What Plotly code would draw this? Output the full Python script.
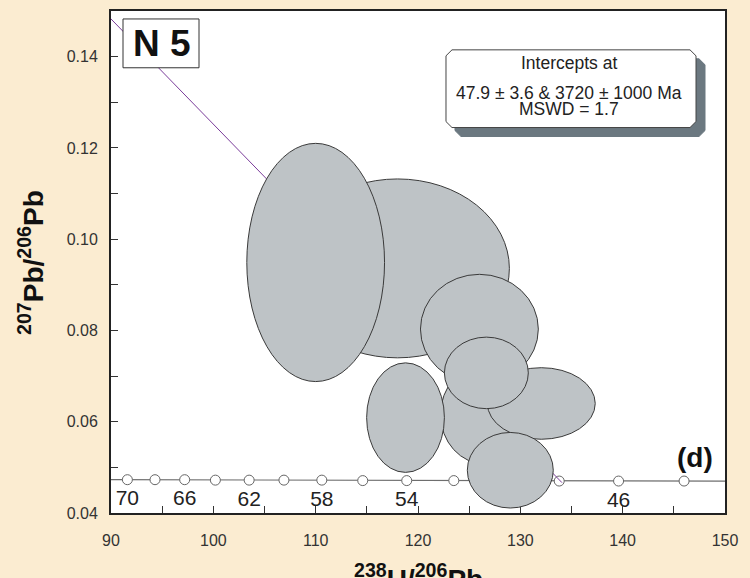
import plotly.graph_objects as go

# --- Concordia (Tera-Wasserburg) age markers, Ma ---
conc_age = [70, 68, 66, 64, 62, 60, 58, 56, 54, 52, 50, 48, 46, 44]
conc_x = [91.6, 94.3, 97.2, 100.2, 103.5, 106.9, 110.6, 114.6, 118.9, 123.5, 128.4, 133.8, 139.6, 146.0]
conc_y = [0.0473, 0.0473, 0.0473, 0.0472, 0.0472, 0.0472, 0.0472, 0.0471, 0.0471, 0.0471, 0.0471, 0.0470, 0.0470, 0.0470]
conc_line_x = [90, 150]
conc_line_y = [0.0473, 0.0470]
label_ages = [70, 66, 62, 58, 54, 50, 46]

# --- Discordia through the lower (47.9 Ma) and upper (3720 Ma) intercepts ---
disc_x = [134.07, 1.281]
disc_y = [0.04665, 0.3528]

# --- Error ellipses: centre and half-axes (238U/206Pb, 207Pb/206Pb) ---
ell_x = [118.0, 110.0, 126.6, 132.05, 126.0, 126.68, 118.78, 129.02]
ell_dx = [10.93, 6.73, 4.4, 5.27, 5.76, 4.10, 3.8, 4.2]
ell_y = [0.0936, 0.0949, 0.0616, 0.0640, 0.0803, 0.0707, 0.0609, 0.04937]
ell_dy = [0.0196, 0.0261, 0.0109, 0.00784, 0.0120, 0.00784, 0.0120, 0.00828]

x_ticks = [90, 100, 110, 120, 130, 140, 150]
y_ticks = [0.04, 0.06, 0.08, 0.10, 0.12, 0.14]

sample = "N 5"
panel = "(d)"
result_lines = ["Intercepts at", "47.9 ± 3.6 & 3720 ± 1000 Ma", "MSWD = 1.7"]

FONT = "Arial, Liberation Sans, sans-serif"
W, H = 750, 578
L, R, T, B = 111, 725, 9, 513


def fx(px):
    return (px - L) / (R - L)


def fy(py):
    return (B - py) / (B - T)


fig = go.Figure()

# concordia curve and age markers
fig.add_trace(go.Scatter(x=conc_line_x, y=conc_line_y, mode="lines",
                         line=dict(color="#6e6e6e", width=1.2), hoverinfo="skip"))
fig.add_trace(go.Scatter(x=conc_x, y=conc_y, mode="markers",
                         marker=dict(symbol="circle", size=10, color="white",
                                     line=dict(color="#666", width=1)),
                         hoverinfo="skip"))
lab_x = [conc_x[conc_age.index(a)] for a in label_ages]
lab_y = [conc_y[conc_age.index(a)] for a in label_ages]
fig.add_trace(go.Scatter(x=lab_x, y=lab_y, mode="markers+text",
                         marker=dict(size=14, opacity=0),
                         text=[str(a) for a in label_ages],
                         textposition="bottom center",
                         textfont=dict(family=FONT, size=21, color="#222"),
                         hoverinfo="skip"))

# discordia
fig.add_trace(go.Scatter(x=disc_x, y=disc_y, mode="lines",
                         line=dict(color="#7a3c9a", width=1), hoverinfo="skip"))

shapes = []
for cx, dx, cy, dy in zip(ell_x, ell_dx, ell_y, ell_dy):
    shapes.append(dict(type="circle", xref="x", yref="y",
                       x0=cx - dx, x1=cx + dx, y0=cy - dy, y1=cy + dy,
                       fillcolor="#bec3c6", line=dict(color="#3a3a3a", width=1),
                       layer="above"))

# sample box
shapes.append(dict(type="rect", xref="paper", yref="paper",
                   x0=fx(123), x1=fx(199), y0=fy(66), y1=fy(17),
                   fillcolor="white", line=dict(color="#333", width=1), layer="above"))


def chamfer_path(x0, y0, x1, y1, c):
    pts = [(x0 + c, y0), (x1 - c, y0), (x1, y0 + c), (x1, y1 - c),
           (x1 - c, y1), (x0 + c, y1), (x0, y1 - c), (x0, y0 + c)]
    return "M " + " L ".join(f"{fx(px):.5f},{fy(py):.5f}" for px, py in pts) + " Z"


# results box with drop shadow
shapes.append(dict(type="path", xref="paper", yref="paper",
                   path=chamfer_path(455, 57, 705, 135, 6),
                   fillcolor="#6b7880", line=dict(color="#6b7880", width=1), layer="above"))
shapes.append(dict(type="path", xref="paper", yref="paper",
                   path=chamfer_path(446, 48, 696, 126, 6),
                   fillcolor="white", line=dict(color="#444", width=1), layer="above"))

annotations = [
    dict(text=f"<b>{sample}</b>", x=fx(162), y=fy(42), xref="paper", yref="paper",
         showarrow=False, font=dict(family=FONT, size=37, color="#111"),
         xanchor="center", yanchor="middle"),
    dict(text=f"<b>{panel}</b>", x=fx(695), y=fy(457), xref="paper", yref="paper",
         showarrow=False, font=dict(family=FONT, size=28, color="#111"),
         xanchor="center", yanchor="middle"),
    dict(text="<b><sup>207</sup>Pb/<sup>206</sup>Pb</b>", x=fx(31), y=fy(262),
         xref="paper", yref="paper", showarrow=False, textangle=-90,
         font=dict(family=FONT, size=28, color="#111"),
         xanchor="center", yanchor="middle"),
    dict(text="<b><sup>238</sup>U/<sup>206</sup>Pb</b>", x=fx(418), y=fy(557),
         xref="paper", yref="paper", showarrow=False,
         font=dict(family=FONT, size=28, color="#111"),
         xanchor="center", yanchor="top"),
]
for txt, py in zip(result_lines, [61, 91, 107]):
    annotations.append(dict(text=txt, x=fx(569), y=fy(py), xref="paper", yref="paper",
                            showarrow=False, font=dict(family=FONT, size=17.5, color="#222"),
                            xanchor="center", yanchor="middle"))

axis_common = dict(showgrid=False, zeroline=False, showline=True, linecolor="#222",
                   linewidth=2, mirror=True, ticks="inside", ticklen=7, tickwidth=1,
                   tickcolor="#333", tickfont=dict(family=FONT, size=16, color="#333"))

fig.update_layout(
    width=W, height=H,
    margin=dict(l=L, r=W - R, t=T, b=H - B),
    paper_bgcolor="#fbecd1", plot_bgcolor="white",
    showlegend=False,
    shapes=shapes, annotations=annotations,
    xaxis=dict(range=[90, 150], tickvals=x_ticks, ticklabelstandoff=12,
               minor=dict(dtick=5, tick0=90, ticks="inside", ticklen=7, tickcolor="#333"),
               **axis_common),
    yaxis=dict(range=[0.04, 0.15], tickvals=y_ticks, tickformat=".2f", ticklabelstandoff=8,
               minor=dict(dtick=0.01, tick0=0.04, ticks="inside", ticklen=7, tickcolor="#333"),
               **axis_common),
)

fig.write_html("out.html")
